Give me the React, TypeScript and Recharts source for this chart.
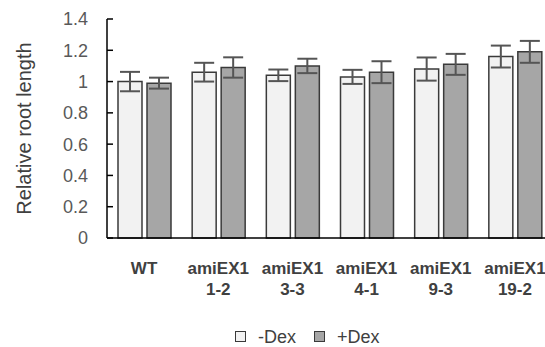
import { BarChart, Bar, XAxis, YAxis, ErrorBar } from 'recharts';

const lines = ['WT', 'amiEX1 1-2', 'amiEX1 3-3', 'amiEX1 4-1', 'amiEX1 9-3', 'amiEX1 19-2'];
const minusDex = [1.0, 1.06, 1.04, 1.03, 1.08, 1.16];
const minusDexErr = [0.062, 0.06, 0.037, 0.045, 0.074, 0.07];
const plusDex = [0.99, 1.09, 1.1, 1.06, 1.11, 1.19];
const plusDexErr = [0.035, 0.065, 0.046, 0.07, 0.067, 0.07];
const yTicks = [0, 0.2, 0.4, 0.6, 0.8, 1, 1.2, 1.4];
const legendLabels = ['-Dex', '+Dex'];

const data = lines.map((name, i) => ({
  name,
  minus: minusDex[i],
  minusErr: minusDexErr[i],
  plus: plusDex[i],
  plusErr: plusDexErr[i],
}));

const LIGHT = '#f2f2f2';
const DARK = '#a6a6a6';
const EDGE = '#3a3a3a';
const FONT = 'Liberation Sans, Arial, sans-serif';

function XTick({ x, y, payload }: any) {
  const parts = String(payload.value).split(' ');
  return (
    <text x={x} y={y} textAnchor="middle" fill="#404040" fontSize={17} fontWeight="bold">
      {parts.map((p, i) => (
        <tspan key={i} x={x} dy={i === 0 ? 28 : 21}>
          {p}
        </tspan>
      ))}
    </text>
  );
}

function LegendBox() {
  const item = (fill: string, label: string, gap: number) => (
    <span style={{ display: 'inline-flex', alignItems: 'center', marginRight: gap }}>
      <span
        style={{
          display: 'inline-block',
          width: 9,
          height: 9,
          background: fill,
          border: `1px solid ${EDGE}`,
          marginRight: 12,
        }}
      />
      <span>{label}</span>
    </span>
  );
  return (
    <div
      style={{
        position: 'absolute',
        left: 235,
        top: 328,
        fontFamily: FONT,
        fontSize: 18,
        lineHeight: '16px',
        color: '#404040',
        whiteSpace: 'nowrap',
      }}
    >
      {item(LIGHT, legendLabels[0], 18)}
      {item(DARK, legendLabels[1], 0)}
    </div>
  );
}

export default function App() {
  return (
    <div
      style={{
        position: 'fixed',
        left: 0,
        top: 0,
        width: 545,
        height: 347,
        overflow: 'hidden',
        background: '#fff',
        fontFamily: FONT,
      }}
    >
      <BarChart
        width={560}
        height={347}
        data={data}
        margin={{ top: 19, right: 8, left: 40, bottom: 0 }}
        barGap={5}
        barSize={24}
      >
        <XAxis
          dataKey="name"
          tickLine={false}
          axisLine={{ stroke: '#000', strokeWidth: 1.5 }}
          tick={<XTick />}
          interval={0}
          height={109}
        />
        <YAxis
          domain={[0, 1.4]}
          ticks={yTicks}
          width={67}
          tickSize={-6}
          tickMargin={25}
          axisLine={{ stroke: '#000', strokeWidth: 1.5 }}
          tickLine={{ stroke: '#000', strokeWidth: 1.5 }}
          tick={{ fill: '#595959', fontSize: 18 }}
          label={{
            value: 'Relative root length',
            angle: -90,
            position: 'insideLeft',
            offset: -16,
            fill: '#404040',
            fontSize: 20,
            style: { textAnchor: 'middle' },
          }}
        />
        <Bar dataKey="minus" fill={LIGHT} stroke={EDGE} strokeWidth={1.5} isAnimationActive={false}>
          <ErrorBar dataKey="minusErr" width={10} stroke="#555" strokeWidth={2} />
        </Bar>
        <Bar dataKey="plus" fill={DARK} stroke={EDGE} strokeWidth={1.5} isAnimationActive={false}>
          <ErrorBar dataKey="plusErr" width={10} stroke="#555" strokeWidth={2} />
        </Bar>
      </BarChart>
      <LegendBox />
    </div>
  );
}
